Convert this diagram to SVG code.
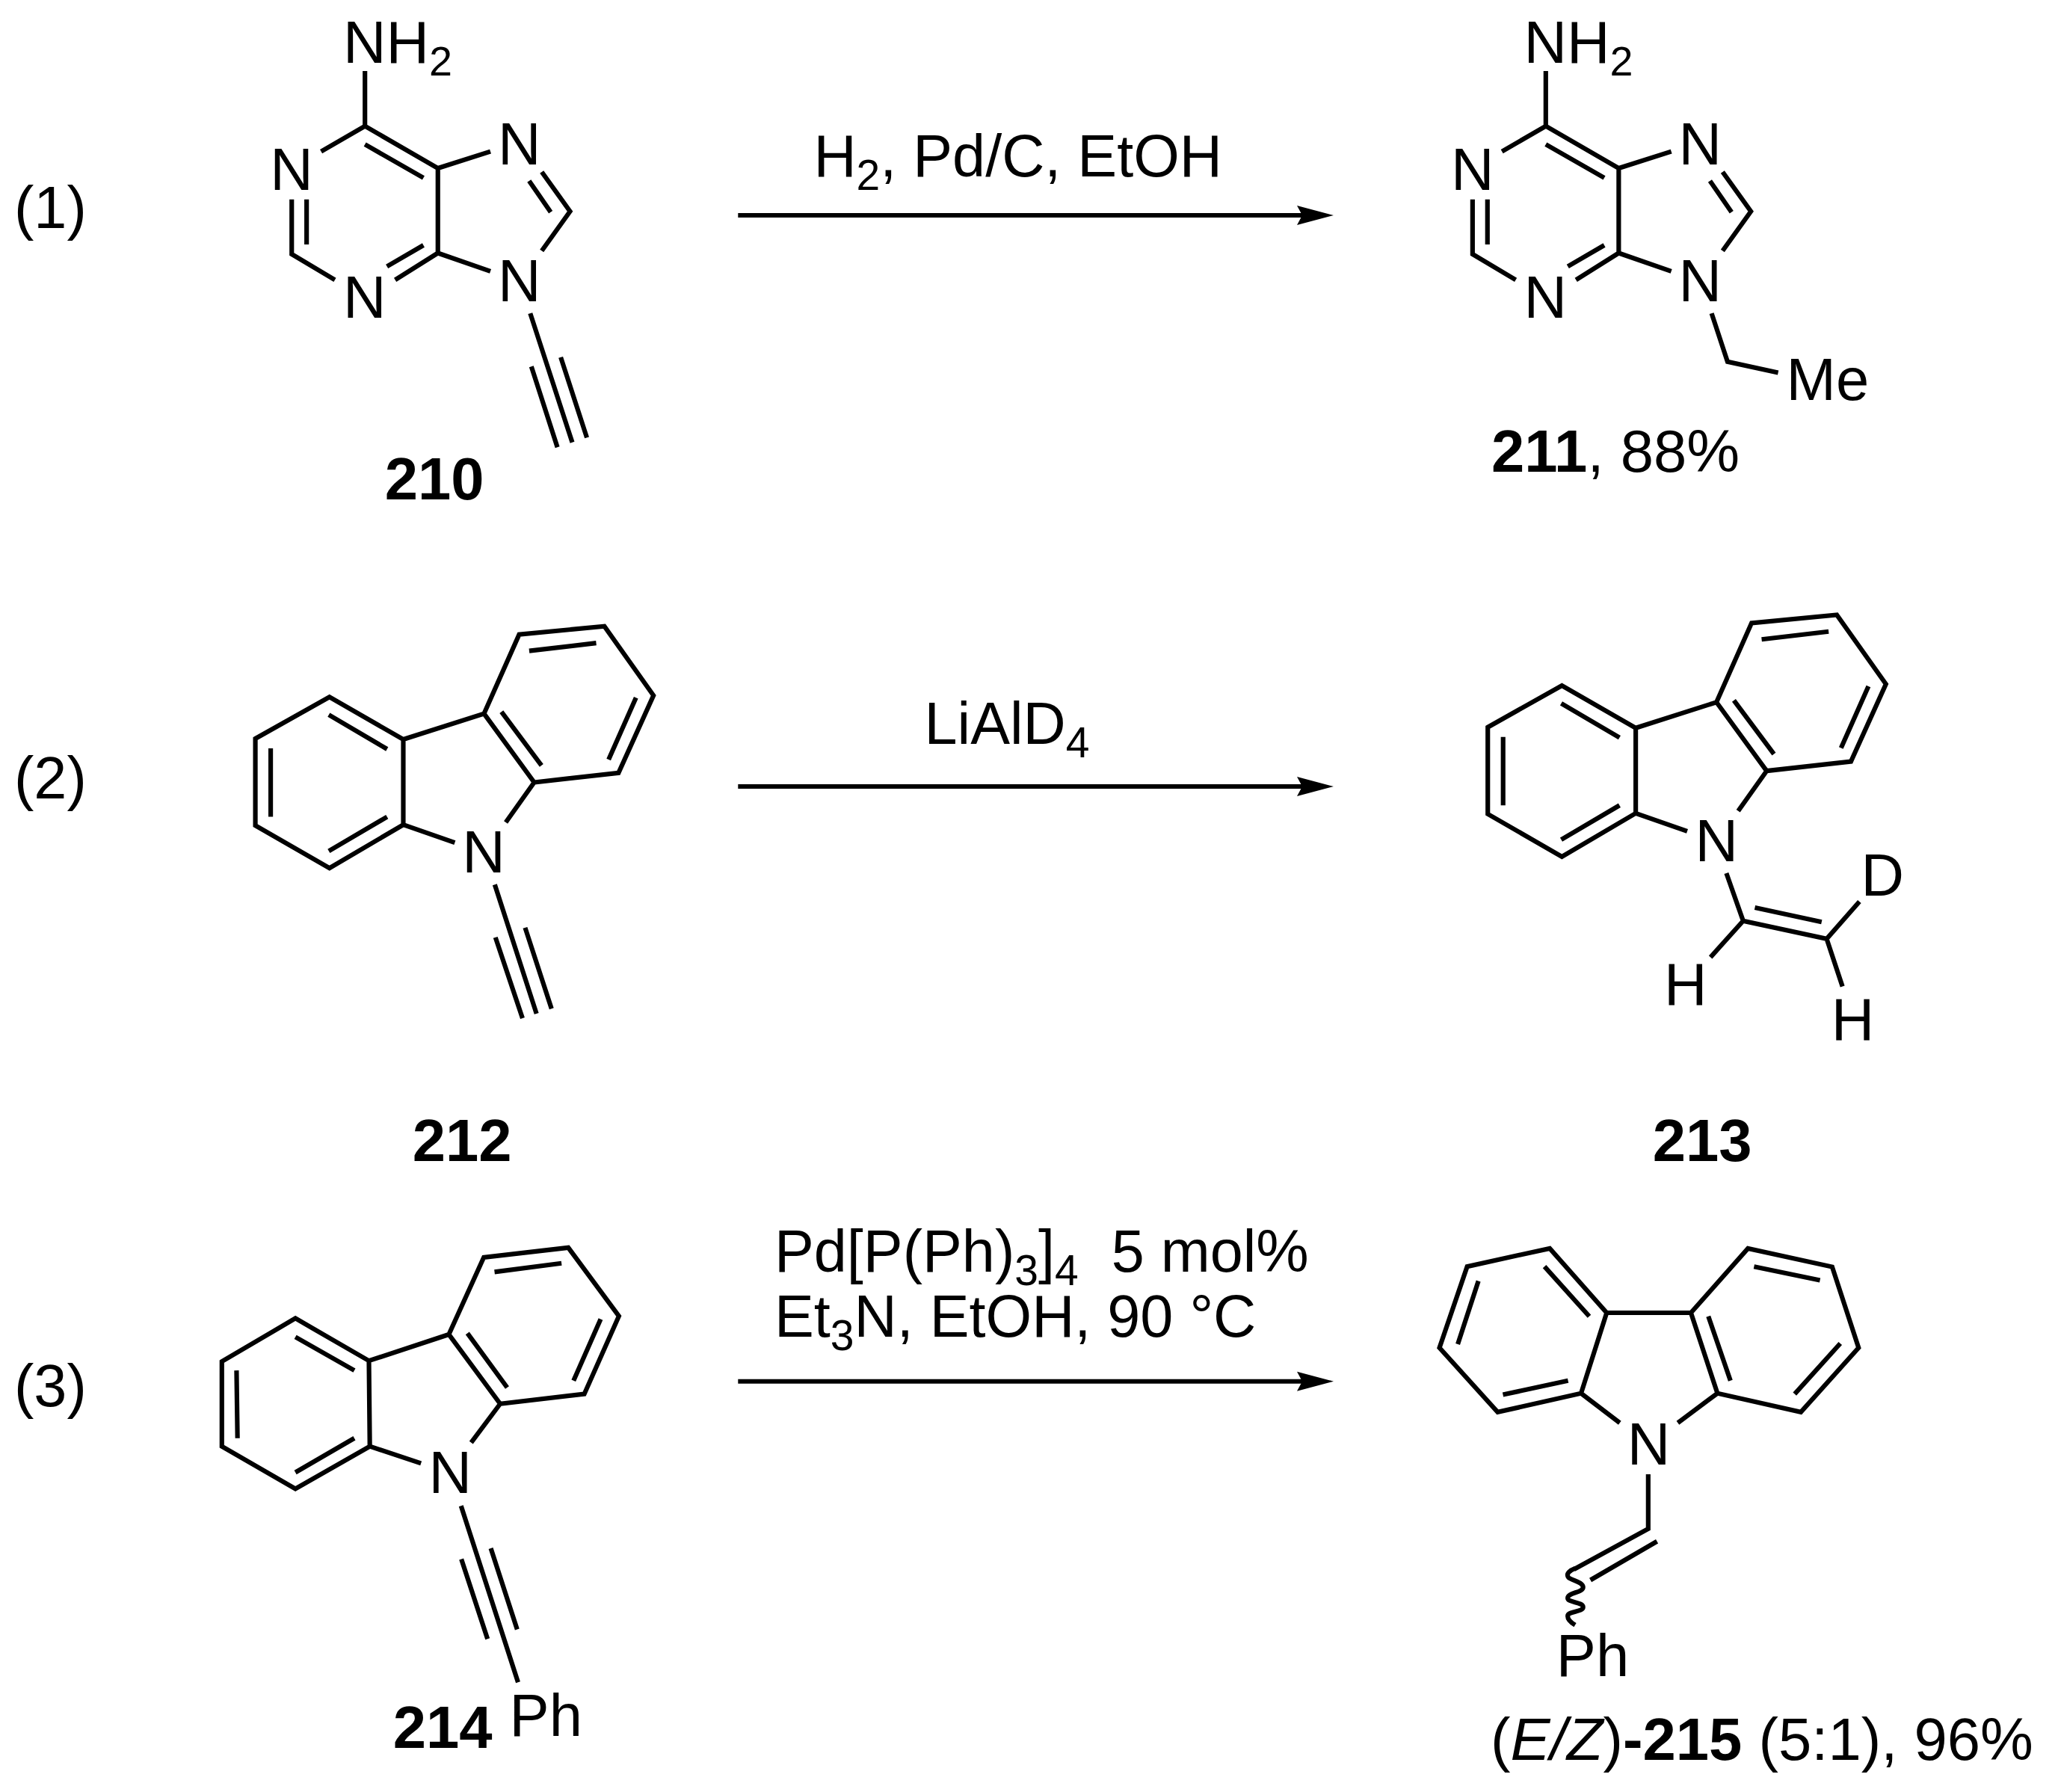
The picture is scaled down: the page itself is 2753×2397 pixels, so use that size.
<svg xmlns="http://www.w3.org/2000/svg" width="2753" height="2397" viewBox="0 0 2753 2397">
<style>
text{font-family:"Liberation Sans",Arial,sans-serif;font-size:80px;fill:#000;white-space:pre}
.r text{font-size:79.2px}
.b{font-weight:bold}
.i{font-style:italic}
.s{font-size:56px}
.r .s{font-size:57px}
.bond{fill:none;stroke:#000;stroke-width:6.2;stroke-linejoin:miter;stroke-linecap:butt}
.rxn{fill:none;stroke:#000;stroke-width:6;marker-end:url(#head)}
</style>
<defs>
<marker id="head" markerUnits="userSpaceOnUse" markerWidth="52" markerHeight="28" refX="7" refY="14" orient="auto" viewBox="0 0 52 28"><path d="M0 1L49 14L0 27L7 14Z" fill="#000"/></marker>
<path id="purine" class="bond" d="M490.4 95.5V169.4L431.5 203.5M490.4 169.4L588.4 226V340L531 376M569 239L490.4 194M569 329.5L520 358M392 268V341.5L450 376M412 268V328.6M588.4 226L659 203.5M588.4 340L659 364.6M728 231L766 284L728 337M711 243L740 285"/>
</defs>
<rect width="2753" height="2397" fill="#fff"/>
<g id="connectors">
<line class="rxn" x1="987.3" y1="288" x2="1742" y2="288"/>
<line class="rxn" x1="987.3" y1="1052" x2="1742" y2="1052"/>
<line class="rxn" x1="987.3" y1="1847.7" x2="1742" y2="1847.7"/>
</g>
<g id="step-labels" class="r">
<text x="19" y="304.6">(1)</text>
<text x="19" y="1068">(2)</text>
<text x="19" y="1880.5">(3)</text>
</g>
<g id="reagents-1" class="r"><text x="1088.4" y="236">H<tspan class="s" dy="18">2</tspan><tspan dy="-18">, Pd/C, EtOH</tspan></text></g>
<g id="reagents-2" class="r"><text x="1236.5" y="995">LiAlD<tspan class="s" dy="18">4</tspan></text></g>
<g id="reagents-3" class="r"><text x="1036" y="1700.7">Pd[P(Ph)<tspan class="s" dy="18">3</tspan><tspan dy="-18">]</tspan><tspan class="s" dy="18">4</tspan><tspan dy="-18">  5 mol%</tspan></text>
<text x="1036" y="1787.7">Et<tspan class="s" dy="18">3</tspan><tspan dy="-18">N, EtOH, 90 °C</tspan></text></g>
<g id="compound-210" transform="scale(.9955)">
<use href="#purine"/>
<path class="bond" d="M712.5 421L769 594.5M714 492.4L749 601M753.5 480L788.6 588"/>
<text x="461" y="84.5">NH<tspan class="s" dy="17">2</tspan></text>
<text x="363" y="255">N</text><text x="461" y="427">N</text><text x="669" y="220.6">N</text><text x="669" y="405">N</text>
<text class="b" x="517" y="671.5">210</text>
</g>
<g id="compound-211" transform="translate(8.325 0) scale(.9955)">
<use href="#purine" x="1578.4"/>
<path class="bond" d="M2291.6 421L2313 486L2381 500.7"/>
<text x="2039.4" y="84.5">NH<tspan class="s" dy="17">2</tspan></text>
<text x="1941.4" y="255">N</text><text x="2039.4" y="427">N</text><text x="2247.4" y="220.6">N</text><text x="2247.4" y="405">N</text>
<text x="2392" y="537.6">Me</text>
<text x="1995.6" y="633.6"><tspan class="b">211</tspan>, 88%</text>
</g>
<g id="compound-212" transform="translate(1.125 3.51) scale(.9955)">
<path class="bond" d="M342 989L441.6 933L540.8 990V1104.6L441.6 1163L342 1105.6ZM362.6 1002V1094M440.7 957L519 1003M519 1094L440.7 1140M540.8 990L649.3 955.4L716.7 1047.7L830 1035L877 931L811 838L696.5 849L649.3 955.4M672.7 953L726.5 1025M710 871L800 860.5M853.5 934L816.7 1017M540.8 1104.6L610 1128.7M716.7 1047.7L678.5 1101.5M663.7 1185L719.8 1358.5M664.6 1256L701 1364.6M704.5 1243L740 1351.8"/>
<text x="620" y="1168.7">N</text>
<text class="b" x="553" y="1557">212</text>
</g>
<g id="compound-213" transform="translate(8.775 3.51) scale(.9955)">
<path class="bond" d="M1990.4 973.6L2090 917.6L2189.2 974.6V1089.2L2090 1147.6L1990.4 1090.2ZM2011 986.6V1078.6M2089.1 941.6L2167.4 987.6M2167.4 1078.6L2089.1 1124.6M2189.2 974.6L2297.7 940L2365.1 1032.3L2478.4 1019.6L2525.4 915.6L2459.4 822.6L2344.9 833.6L2297.7 940M2321.1 937.6L2374.9 1009.6M2358.4 855.6L2448.4 845.1M2501.9 918.6L2465.1 1001.6M2189.2 1089.2L2258.4 1113.3M2365.1 1032.3L2326.9 1086.1"/>
<path class="bond" d="M2311 1169.7L2333.6 1233.8L2445.8 1258L2489.8 1208M2349.3 1216L2439 1235.4M2445.8 1258L2467 1322M2333.6 1233.8L2289.7 1282.6"/>
<text x="2269" y="1153.3">N</text><text x="2492" y="1199.5">D</text><text x="2227.3" y="1346.7">H</text><text x="2452" y="1394">H</text>
<text class="b" x="2212" y="1557">213</text>
</g>
<g id="compound-214" transform="translate(1.125 7.38) scale(.9955)">
<path class="bond" d="M297 1822L395.8 1764L494.6 1821L495.8 1936L395.8 1993L297 1936ZM316.7 1834L318 1925M395.8 1789L475 1834M475 1925L395.8 1971M494.6 1821L602 1785.6L671 1878.8L784 1865.7L830.5 1761L762.5 1669L649 1682L602 1785.6M627 1784L680.4 1857M663.4 1701.6L753.4 1690M806 1765L769.6 1847.7M495.8 1936L564.6 1958.8M671 1878.8L632 1931M618.4 2016L695 2253M618.8 2087.5L654 2194.7M658.4 2073L693.8 2182"/>
<text x="575" y="1999">N</text><text x="683.5" y="2325">Ph</text>
<text class="b" x="527" y="2341">214</text>
</g>
<g id="compound-215" transform="translate(8.55 7.38) scale(.9955)">
<path class="bond" d="M1925.7 1803.5L1962.9 1694.4L2073.9 1670L2150.4 1756.5L2116 1864.7L2003.9 1890ZM1978 1713.8L1950.3 1798.7M2066.8 1694.4L2127 1761.3M2098.5 1847.7L2011 1866.6M2150.4 1756.5H2263.6L2340.2 1670L2453.4 1694.8L2488.9 1803.5L2411.3 1890L2299.2 1864.7L2263.6 1756.5M2287 1761.3L2316.7 1847.7M2348.4 1694.4L2437 1712.8M2464.3 1797.7L2403 1865.7M2116 1864.7L2168 1904.5M2299.2 1864.7L2246 1904.5M2206.2 1973.4V2046.7L2106.7 2101M2218 2063.7L2128.6 2115.6"/>
<path class="bond" d="M2108 2100C2100 2103 2097 2107 2098 2110C2099 2116 2118 2117 2118.7 2125C2119 2133 2098 2132 2098 2140C2098 2146 2118.7 2145 2118.7 2152C2118.7 2159 2098 2157 2098 2164C2098 2169 2103 2173 2108 2176"/>
<text x="2178" y="1960.3">N</text><text x="2082.6" y="2245">Ph</text>
<text x="1994.5" y="2357">(<tspan class="i">E/Z</tspan>)<tspan class="b">-215</tspan> (5:1), 96%</text>
</g>
</svg>
